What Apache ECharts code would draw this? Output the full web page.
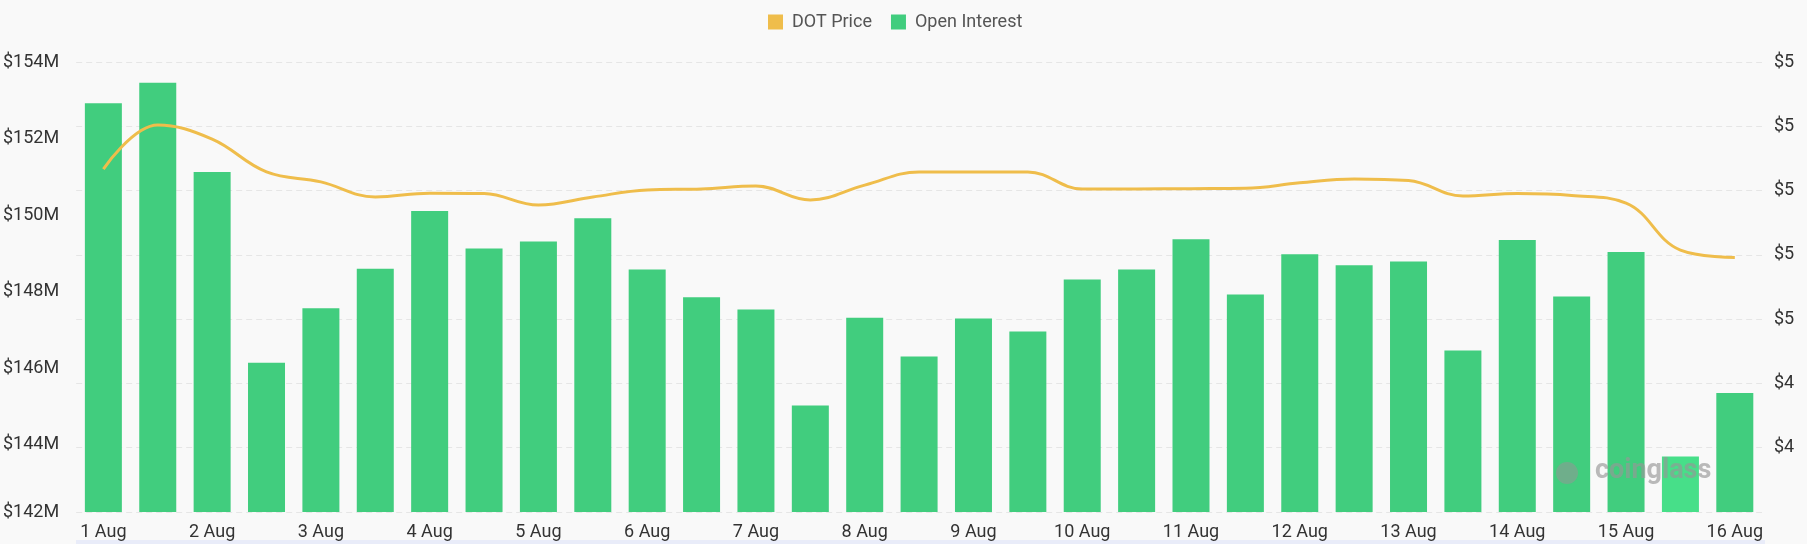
<!DOCTYPE html>
<html>
<head>
<meta charset="utf-8">
<script src="https://cdn.jsdelivr.net/npm/echarts@6/dist/echarts.min.js"></script>
<style>
html,body{margin:0;padding:0;background:#f9f9f9;}
#chart{width:1807px;height:544px;}
</style>
</head>
<body>
<div id="chart"></div>
<script>
const categories = [
  '1 Aug','1 Aug 12:00','2 Aug','2 Aug 12:00','3 Aug','3 Aug 12:00','4 Aug','4 Aug 12:00',
  '5 Aug','5 Aug 12:00','6 Aug','6 Aug 12:00','7 Aug','7 Aug 12:00','8 Aug','8 Aug 12:00',
  '9 Aug','9 Aug 12:00','10 Aug','10 Aug 12:00','11 Aug','11 Aug 12:00','12 Aug','12 Aug 12:00',
  '13 Aug','13 Aug 12:00','14 Aug','14 Aug 12:00','15 Aug','15 Aug 12:00','16 Aug'
];
// Open interest in $M
const openInterest = [
  152.92, 153.46, 151.13, 146.15, 147.57, 148.60, 150.11, 149.13,
  149.31, 149.92, 148.58, 147.86, 147.54, 145.03, 147.32, 146.31,
  147.30, 146.96, 148.32, 148.58, 149.37, 147.93, 148.98, 148.69,
  148.79, 146.47, 149.35, 147.88, 149.04, 143.70, 145.36
];
// DOT price in $
const dotPrice = [
  5.067, 5.204, 5.160, 5.058, 5.027, 4.980, 4.992, 4.991,
  4.955, 4.980, 5.002, 5.005, 5.014, 4.971, 5.017, 5.058,
  5.058, 5.058, 5.005, 5.005, 5.006, 5.007, 5.024, 5.036,
  5.031, 4.983, 4.991, 4.985, 4.961, 4.815, 4.792
];
const leftRange = { min: 142.25, max: 154 };
const rightTicks = { min: 4.0, max: 5.4, interval: 0.2 };
const highlightIndex = 29;

const FONT = 'Roboto, "Noto Sans", sans-serif';
const chart = echarts.init(document.getElementById('chart'));
chart.setOption({
  backgroundColor: '#f9f9f9',
  animation: false,
  legend: {
    top: 13,
    left: 768,
    padding: 0,
    itemWidth: 15,
    itemHeight: 15,
    itemGap: 19,
    icon: 'rect',
    textStyle: { color: '#555', fontSize: 18, fontFamily: FONT, padding: [0, 0, 0, 4] },
    data: ['DOT Price', 'Open Interest']
  },
  grid: { left: 72, right: 45, top: 62, bottom: 32 },
  xAxis: {
    type: 'category',
    data: categories,
    boundaryGap: true,
    axisLine: { show: false },
    axisTick: { show: false },
    axisLabel: {
      interval: 1,
      margin: 11,
      color: '#333',
      fontSize: 18,
      fontFamily: FONT,
      formatter: v => v.split(' ').slice(0, 2).join(' ')
    },
    splitLine: { show: false }
  },
  yAxis: [
    {
      type: 'value',
      position: 'left',
      min: leftRange.min, max: leftRange.max, splitNumber: 6,
      axisLine: { show: false }, axisTick: { show: false },
      splitLine: { show: false },
      axisLabel: {
        margin: 17, color: '#333', fontSize: 18, fontFamily: FONT,
        showMinLabel: true, showMaxLabel: true,
        formatter: v => '$' + Math.round(v) + 'M'
      }
    },
    {
      type: 'value',
      position: 'right',
      min: rightTicks.min, max: rightTicks.max, interval: rightTicks.interval,
      axisLine: { show: false }, axisTick: { show: false },
      splitLine: { show: true, lineStyle: { color: '#e6e6e6', type: [6, 4], width: 1 } },
      axisLabel: {
        margin: 12, color: '#333', fontSize: 18, fontFamily: FONT,
        showMinLabel: false,
        formatter: v => '$' + Math.round(v)
      }
    }
  ],
  series: [
    {
      name: 'DOT Price',
      type: 'line',
      yAxisIndex: 1,
      data: dotPrice,
      smooth: 0.4,
      showSymbol: false,
      symbol: 'none',
      z: 5,
      color: '#efbd4b',
      lineStyle: { color: '#efbd4b', width: 3 }
    },
    {
      name: 'Open Interest',
      type: 'bar',
      yAxisIndex: 0,
      barWidth: 37,
      z: 2,
      color: '#41cd7e',
      data: openInterest.map((v, i) => i === highlightIndex
        ? { value: v, itemStyle: { color: '#47df89' } }
        : v),
      itemStyle: { color: '#41cd7e' }
    }
  ],
  graphic: [
    {
      type: 'rect',
      shape: { x: 76, y: 540, width: 1689, height: 4 },
      style: { fill: '#e9ecf9' },
      silent: true
    },
    {
      type: 'text',
      left: 1595,
      top: 458,
      z: 100,
      style: {
        text: 'coinglass',
        fill: 'rgba(150,150,150,0.65)',
        font: 'bold 27px Roboto, "Noto Sans", sans-serif'
      },
      silent: true
    },
    {
      type: 'circle',
      shape: { cx: 1567, cy: 473, r: 11 },
      z: 100,
      style: { fill: 'rgba(150,150,150,0.55)' },
      silent: true
    }
  ]
});
</script>
</body>
</html>
